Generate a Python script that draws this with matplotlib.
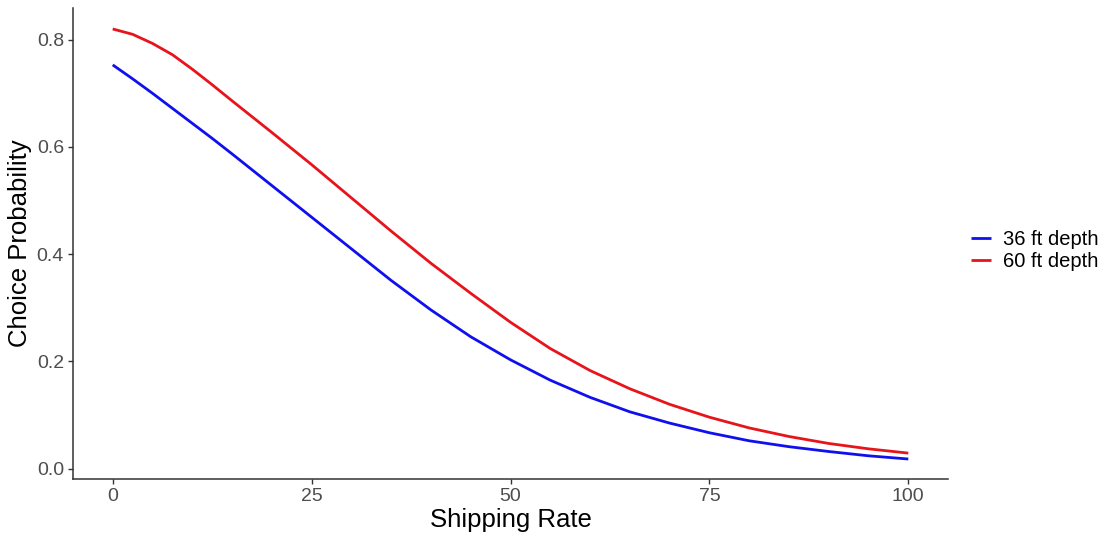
import matplotlib
matplotlib.use("Agg")
import matplotlib.pyplot as plt

# values
rate = [0, 2.5, 5, 7.5, 10, 12.5, 15, 20, 25, 30, 35, 40, 45, 50,
        55, 60, 65, 70, 75, 80, 85, 90, 95, 100]
prob_36 = [0.753, 0.727, 0.700, 0.672, 0.644, 0.616, 0.587, 0.528, 0.469, 0.410, 0.351,
           0.296, 0.246, 0.203, 0.165, 0.133, 0.106, 0.085, 0.067, 0.052, 0.041, 0.032,
           0.024, 0.018]
prob_60 = [0.820, 0.810, 0.793, 0.772, 0.745, 0.716, 0.686, 0.627, 0.567, 0.505, 0.443,
           0.383, 0.327, 0.273, 0.224, 0.183, 0.149, 0.120, 0.096, 0.076, 0.060, 0.047,
           0.037, 0.029]
labels = ["36 ft depth", "60 ft depth"]
colors = ["#1010ee", "#e8141c"]

plt.rcParams["font.family"] = ["Liberation Sans", "DejaVu Sans"]

fig = plt.figure(figsize=(11.05, 5.36), dpi=100)
ax = fig.add_axes([0.066, 0.106, 0.792, 0.879])

for ys, lab, c in zip([prob_36, prob_60], labels, colors):
    ax.plot(rate, ys, color=c, lw=2.0, label=lab, solid_capstyle="butt")

ax.set_xlim(-5, 105)
ax.set_ylim(-0.0196, 0.859)
ax.set_xticks([0, 25, 50, 75, 100])
ax.set_yticks([0.0, 0.2, 0.4, 0.6, 0.8])
ax.set_yticklabels(["0.0", "0.2", "0.4", "0.6", "0.8"])

for side in ["top", "right"]:
    ax.spines[side].set_visible(False)
for side in ["left", "bottom"]:
    ax.spines[side].set_color("#333333")
    ax.spines[side].set_linewidth(1.1)
ax.tick_params(colors="#333333", labelcolor="#4d4d4d", labelsize=14,
               length=3.5, width=1.0, pad=3)

ax.set_xlabel("Shipping Rate", fontsize=18.5, labelpad=2)
ax.set_ylabel("Choice Probability", fontsize=18.5, labelpad=3)

fig.legend(loc="center left", bbox_to_anchor=(0.871, 0.532), frameon=False,
           fontsize=14.5, handlelength=1.0, handletextpad=0.6, labelspacing=0.15,
           borderaxespad=0.0)

fig.savefig("out.png", dpi=100)
